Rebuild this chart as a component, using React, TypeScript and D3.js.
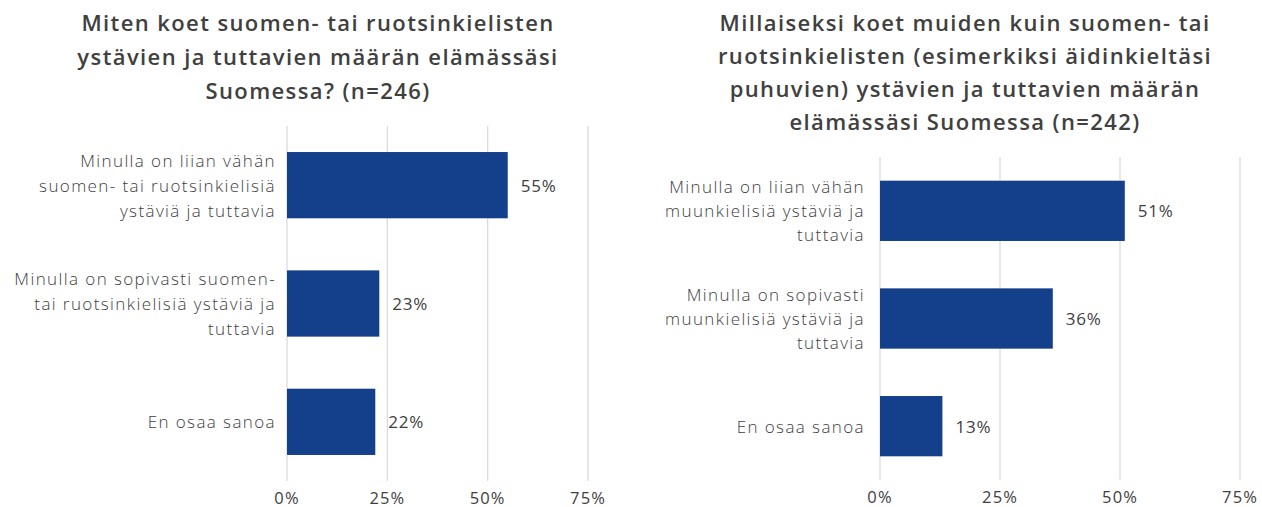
import React from "react";
import * as d3 from "d3";

const leftTitle = [
  "Miten koet suomen- tai ruotsinkielisten",
  "ystävien ja tuttavien määrän elämässäsi",
  "Suomessa? (n=246)",
];
const leftCategories = [
  ["Minulla on liian vähän", "suomen- tai ruotsinkielisiä", "ystäviä ja tuttavia"],
  ["Minulla on sopivasti suomen-", "tai ruotsinkielisiä ystäviä ja", "tuttavia"],
  ["En osaa sanoa"],
];
const leftValues = [55, 23, 22];

const rightTitle = [
  "Millaiseksi koet muiden kuin suomen- tai",
  "ruotsinkielisten (esimerkiksi äidinkieltäsi",
  "puhuvien) ystävien ja tuttavien määrän",
  "elämässäsi Suomessa (n=242)",
];
const rightCategories = [
  ["Minulla on liian vähän", "muunkielisiä ystäviä ja", "tuttavia"],
  ["Minulla on sopivasti", "muunkielisiä ystäviä ja", "tuttavia"],
  ["En osaa sanoa"],
];
const rightValues = [51, 36, 13];

const ticks = [0, 25, 50, 75];

const BAR = "#143f8b";
const TEXT = "#404040";
const GRID = "#d9d9d9";
const FONT = "'Open Sans', 'Noto Sans', sans-serif";

type PanelProps = {
  title: string[];
  titleX: number;
  titleY0: number;
  titleStep: number;
  cats: string[][];
  values: number[];
  x0: number;
  x75: number;
  yTop: number;
  yBottom: number;
  labelX: number;
  labelStep: number;
};

function Panel(p: PanelProps) {
  const x = d3.scaleLinear().domain([0, 75]).range([p.x0, p.x75]);
  const y = d3
    .scaleBand<number>()
    .domain(p.values.map((_, i) => i))
    .range([p.yTop, p.yBottom])
    .paddingInner(0.44)
    .paddingOuter(0.22);
  return (
    <g>
      {p.title.map((t, i) => (
        <text
          key={i}
          x={p.titleX}
          y={p.titleY0 + i * p.titleStep}
          textAnchor="middle"
          dominantBaseline="central"
          fontFamily={FONT}
          fontWeight={600}
          fontSize={22}
          letterSpacing={1.4}
          fill={TEXT}
        >
          {t}
        </text>
      ))}
      {ticks.map((t) => (
        <line
          key={t}
          x1={x(t)}
          x2={x(t)}
          y1={p.yTop}
          y2={p.yBottom}
          stroke={GRID}
          strokeWidth={1.2}
        />
      ))}
      {ticks.map((t) => (
        <text
          key={"t" + t}
          x={x(t)}
          y={p.yBottom + 16}
          textAnchor="middle"
          dominantBaseline="central"
          fontFamily={FONT}
          fontSize={16.5}
          letterSpacing={1.1}
          fill={TEXT}
        >
          {t + "%"}
        </text>
      ))}
      {p.values.map((v, i) => {
        const yc = (y(i) as number) + y.bandwidth() / 2;
        const lines = p.cats[i];
        return (
          <g key={i}>
            <rect
              x={x(0)}
              y={y(i)}
              width={x(v) - x(0)}
              height={y.bandwidth()}
              fill={BAR}
            />
            <text
              x={x(v) + 13}
              y={yc}
              dominantBaseline="central"
              fontFamily={FONT}
              fontSize={17}
              letterSpacing={0.8}
              fill={TEXT}
            >
              {v + "%"}
            </text>
            {lines.map((l, j) => (
              <text
                key={j}
                x={p.labelX}
                y={yc + (j - (lines.length - 1) / 2) * p.labelStep}
                textAnchor="end"
                dominantBaseline="central"
                fontFamily={FONT}
                fontSize={17}
                fontWeight={300}
                letterSpacing={1.4}
                fill={TEXT}
              >
                {l}
              </text>
            ))}
          </g>
        );
      })}
    </g>
  );
}

export default function App() {
  return (
    <svg
      width={1262}
      height={507}
      style={{ position: "absolute", left: 0, top: 0, background: "#fff" }}
    >
      <Panel
        title={leftTitle}
        titleX={318}
        titleY0={22}
        titleStep={34}
        cats={leftCategories}
        values={leftValues}
        x0={287}
        x75={588}
        yTop={126}
        yBottom={481}
        labelX={276}
        labelStep={25}
      />
      <Panel
        title={rightTitle}
        titleX={965}
        titleY0={22}
        titleStep={33}
        cats={rightCategories}
        values={rightValues}
        x0={880}
        x75={1240}
        yTop={157}
        yBottom={480}
        labelX={865}
        labelStep={24}
      />
    </svg>
  );
}
